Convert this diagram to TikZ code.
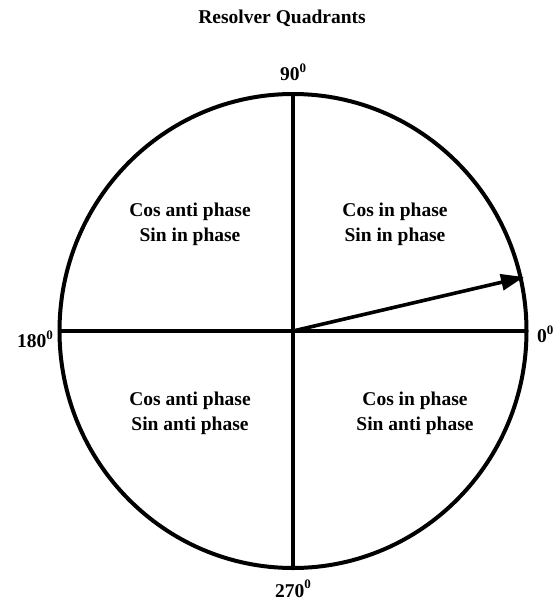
\documentclass[tikz,border=0pt]{standalone}
\usepackage{fontspec}
\setmainfont{Liberation Serif}
\usetikzlibrary{arrows.meta}
\newcommand{\degsup}{\raisebox{0.42em}{\fontsize{13}{13}\selectfont 0}}
\tikzset{
  lbl/.style={font=\fontsize{19.5}{25}\selectfont\bfseries, align=center, inner sep=0pt},
  heavy/.style={line width=4pt},
}
\begin{document}
\begin{tikzpicture}[x=1pt,y=-1pt]
\useasboundingbox (0,0) rectangle (556,613);
\coordinate (c) at (293,331);
\node[lbl] (title) at (282,18) {Resolver Quadrants};
\draw[heavy] (c) ellipse [x radius=233.5, y radius=237];
\coordinate (top) at (293,94);
\coordinate (bot) at (293,568);
\coordinate (lft) at (59.5,331);
\coordinate (rgt) at (526.5,331);
\draw[heavy] (top) -- (bot);
\draw[heavy] (lft) -- (rgt);
\coordinate (tip) at (524,277);
\draw[line width=3.6pt, -{Triangle[length=23pt,width=16pt]}] (c) -- (tip);
\node[lbl] (q1) at (395,224) {Cos in phase\\Sin in phase};
\node[lbl] (q2) at (190,224) {Cos anti phase\\Sin in phase};
\node[lbl] (q3) at (190,413) {Cos anti phase\\Sin anti phase};
\node[lbl] (q4) at (415,413) {Cos in phase\\Sin anti phase};
\node[lbl, anchor=south] (d90) at (293,81) {90\degsup};
\node[lbl, anchor=east] (d180) at (53,339) {180\degsup};
\node[lbl, anchor=north] (d270) at (293,580) {270\degsup};
\node[lbl, anchor=west] (d0) at (537,334) {0\degsup};
\end{tikzpicture}
\end{document}
